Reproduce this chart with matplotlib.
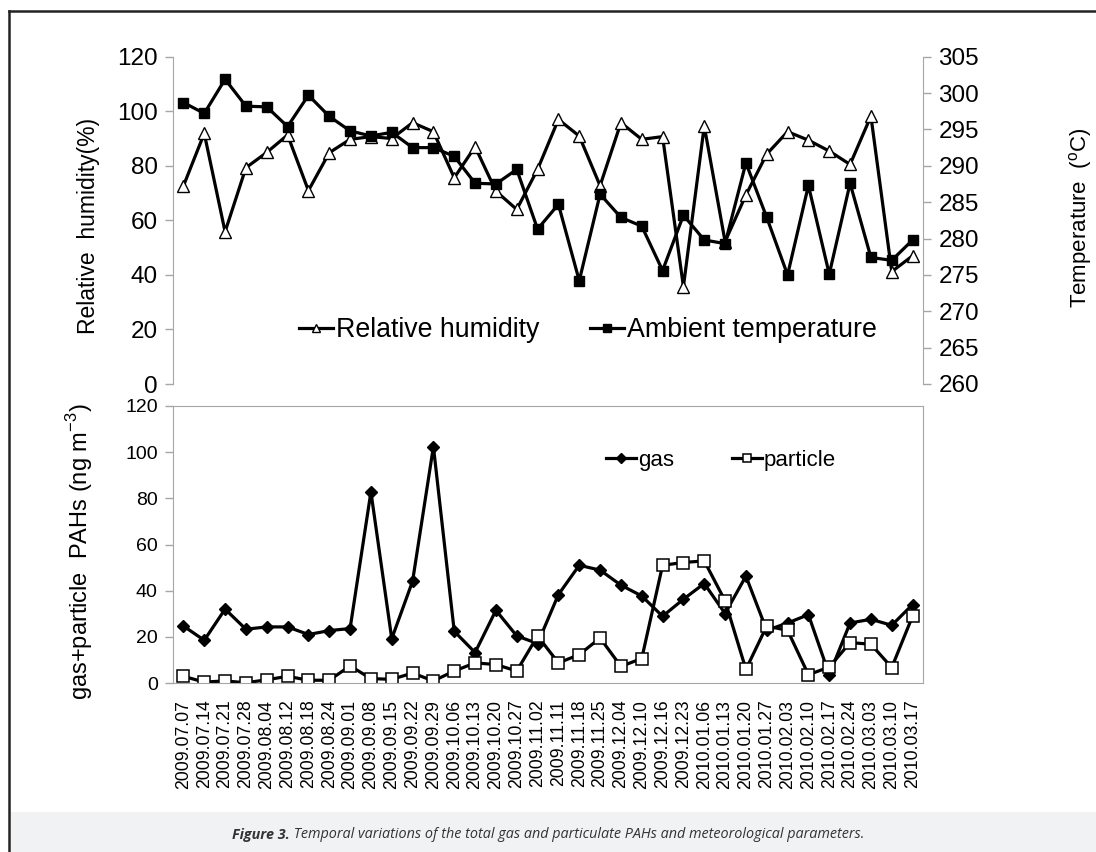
import numpy as np
import matplotlib
matplotlib.use("Agg")
import matplotlib.pyplot as plt
from matplotlib.lines import Line2D
from matplotlib.patches import Rectangle

# sampling dates
dates = ["2009.07.07", "2009.07.14", "2009.07.21", "2009.07.28", "2009.08.04",
         "2009.08.12", "2009.08.18", "2009.08.24", "2009.09.01", "2009.09.08",
         "2009.09.15", "2009.09.22", "2009.09.29", "2009.10.06", "2009.10.13",
         "2009.10.20", "2009.10.27", "2009.11.02", "2009.11.11", "2009.11.18",
         "2009.11.25", "2009.12.04", "2009.12.10", "2009.12.16", "2009.12.23",
         "2010.01.06", "2010.01.13", "2010.01.20", "2010.01.27", "2010.02.03",
         "2010.02.10", "2010.02.17", "2010.02.24", "2010.03.03", "2010.03.10",
         "2010.03.17"]

# relative humidity (%)
rh = [72.6, 91.9, 55.8, 79.3, 84.9, 91.3, 70.9, 84.8, 89.7, 90.7, 90.0, 95.8,
      92.5, 75.6, 87.0, 70.7, 64.0, 78.7, 97.0, 90.9, 72.7, 95.8, 89.7, 90.7,
      35.7, 94.6, 52.2, 69.3, 84.3, 92.5, 89.4, 85.4, 80.5, 98.2, 41.2, 47.0]

# ambient temperature
temp = [298.7, 297.2, 301.9, 298.2, 298.1, 295.4, 299.7, 296.8, 294.8, 294.1,
        294.6, 292.5, 292.5, 291.3, 287.6, 287.5, 289.5, 281.3, 284.7, 274.2,
        286.1, 282.9, 281.7, 275.6, 283.2, 279.8, 279.3, 290.4, 282.9, 275.0,
        287.3, 275.1, 287.6, 277.4, 277.0, 279.8]

# PAHs (ng m-3)
gas = [24.7, 18.5, 32.0, 23.3, 24.3, 24.3, 21.0, 22.7, 23.6, 82.8, 19.2, 44.1,
       102.4, 22.4, 13.2, 31.5, 20.4, 17.1, 38.3, 51.0, 48.9, 42.4, 37.7, 28.9,
       36.3, 43.1, 30.1, 46.3, 22.8, 26.0, 29.6, 3.6, 26.0, 27.6, 25.0, 34.0]
particle = [2.9, 0.4, 0.9, 0.1, 1.4, 2.9, 1.2, 1.2, 7.4, 1.9, 1.6, 4.3, 0.9,
            5.2, 8.7, 8.0, 5.2, 20.4, 8.7, 12.3, 19.5, 7.2, 10.6, 51.0, 52.2,
            52.9, 35.6, 5.9, 24.7, 22.8, 3.6, 6.9, 17.5, 16.8, 6.7, 29.0]

plt.rcParams['font.family'] = ['Liberation Sans', 'DejaVu Sans']
plt.rcParams['mathtext.fontset'] = 'custom'
plt.rcParams['mathtext.rm'] = 'Liberation Sans'

W, H = 1096, 852
fig = plt.figure(figsize=(W / 100, H / 100), dpi=100)
x = np.arange(len(dates))
grey = '#a6a6a6'
left, width = 173 / W, (923 - 173) / W

# ---- top panel: humidity + temperature
ax1 = fig.add_axes([left, 1 - 384 / H, width, (384 - 56.7) / H])
ax2 = ax1.twinx()

l1, = ax1.plot(x, rh, color='k', lw=2.3, marker='^', ms=8.5, mfc='white',
               mec='k', mew=1.0, label='Relative humidity')
l2, = ax2.plot(x, temp, color='k', lw=2.3, marker='s', ms=7.8, mfc='k',
               mec='k', label='Ambient temperature')

ax1.set_xlim(-0.5, len(dates) - 0.5)
ax1.set_ylim(0, 120)
ax1.set_yticks(np.arange(0, 121, 20))
ax2.set_ylim(260, 305)
ax2.set_yticks(np.arange(260, 306, 5))
ax1.set_xticks([])

for s in ['top', 'bottom', 'right']:
    ax1.spines[s].set_visible(False)
for s in ['top', 'bottom', 'left']:
    ax2.spines[s].set_visible(False)
ax1.spines['left'].set_color(grey)
ax2.spines['right'].set_color(grey)
ax1.tick_params(axis='y', direction='out', length=6, width=1, color=grey,
                labelsize=17.5, pad=5)
ax2.tick_params(axis='y', direction='out', length=6, width=1, color=grey,
                labelsize=17.5, pad=5)

ax2.legend([l1, l2], ['Relative humidity', 'Ambient temperature'],
           loc='center', bbox_to_anchor=(588 / W, 1 - 330 / H),
           bbox_transform=fig.transFigure, ncol=2, frameon=False,
           fontsize=19.3, handlelength=1.25, handletextpad=0.12,
           columnspacing=1.9, markerscale=0.75)

fig.text(88 / W, 1 - 226 / H, 'Relative  humidity(%)', rotation=90,
         ha='center', va='center', fontsize=16.5)
fig.text(1080 / W, 1 - 218 / H, 'Temperature  ($^{\\mathregular{o}}$C)',
         rotation=90, ha='center', va='center', fontsize=16)

# ---- bottom panel: gas / particle PAHs
ax3 = fig.add_axes([left, 1 - 683 / H, width, (683 - 406) / H])
l3, = ax3.plot(x, gas, color='k', lw=2.3, marker='D', ms=6, mfc='k',
               mec='k', label='gas')
l4, = ax3.plot(x, particle, color='k', lw=2.3, marker='s', ms=8, mfc='white',
               mec='k', mew=1.1, label='particle')
ax3.set_xlim(-0.5, len(dates) - 0.5)
ax3.set_ylim(0, 120)
ax3.set_yticks(np.arange(0, 121, 20))
ax3.set_xticks(x)
ax3.set_xticklabels(dates, rotation=90, fontsize=12.7)
for s in ax3.spines.values():
    s.set_color(grey)
ax3.tick_params(axis='y', direction='out', length=6, width=1, color=grey,
                labelsize=14, pad=5)
ax3.tick_params(axis='x', length=0, pad=12)
ax3.legend(loc='center', bbox_to_anchor=(721 / W, 1 - 460.7 / H),
           bbox_transform=fig.transFigure, ncol=2, frameon=False,
           fontsize=16, handlelength=1.35, handletextpad=0.1,
           columnspacing=2.6, markerscale=0.8)
fig.text(80 / W, 1 - 552 / H,
         'gas+particle  PAHs (ng m$^{\\mathregular{-3}}$)', rotation=90,
         ha='center', va='center', fontsize=17)

# ---- frame and caption strip
fig.patches.append(Rectangle((10.5 / W, 0), 1, 40 / H, transform=fig.transFigure,
                             facecolor='#f1f2f4', edgecolor='none', zorder=0))
fig.lines.append(Line2D([8.8 / W, 1], [1 - 10.5 / H, 1 - 10.5 / H],
                        transform=fig.transFigure, color='#222222', lw=1.8))
fig.lines.append(Line2D([8.8 / W, 8.8 / W], [0, 1 - 10.5 / H],
                        transform=fig.transFigure, color='#222222', lw=1.8))

cap_y = 1 - 835 / H
t1 = fig.text(0, cap_y, 'Figure 3.', family='Open Sans', fontweight='bold',
              fontstyle='italic', fontsize=10.4, color='#333333', va='center')
t2 = fig.text(0, cap_y, ' Temporal variations of the total gas and particulate '
              'PAHs and meteorological parameters.', family='Open Sans',
              fontstyle='italic', fontsize=10.4, color='#333333', va='center')
r = fig.canvas.get_renderer()
w1 = t1.get_window_extent(r).width
w2 = t2.get_window_extent(r).width
x0 = 548 - (w1 + w2) / 2
t1.set_x(x0 / W)
t2.set_x((x0 + w1) / W)

fig.savefig('out.png', dpi=100)
